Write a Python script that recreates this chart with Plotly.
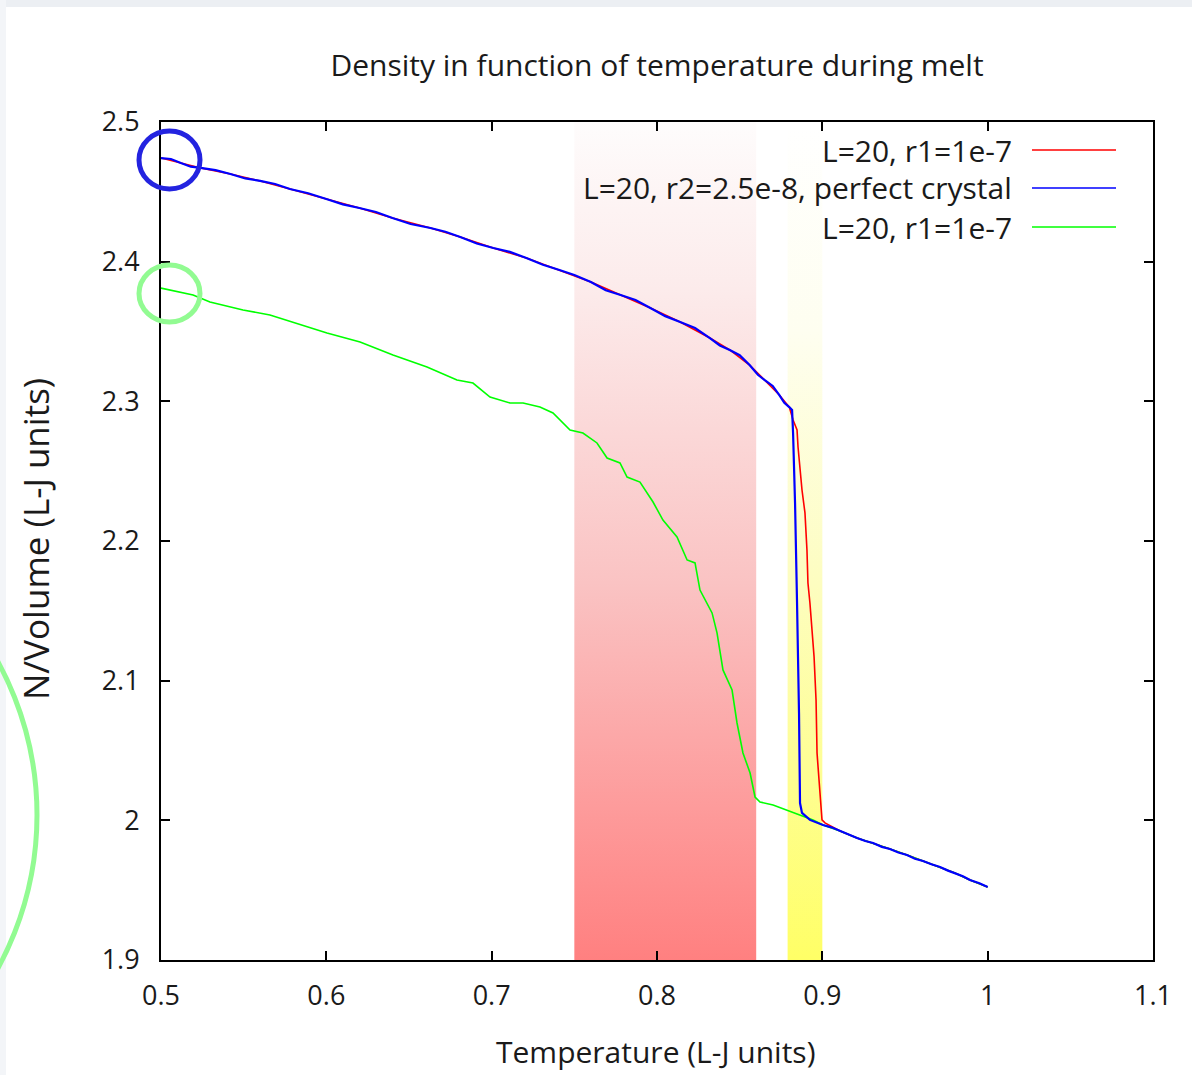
import plotly.graph_objects as go

# ---------------- data ----------------
red_T = [0.500, 0.512, 0.524, 0.542, 0.560, 0.578, 0.600, 0.620, 0.640, 0.663,
         0.681, 0.701, 0.721, 0.741, 0.760, 0.778, 0.796, 0.814, 0.832, 0.844,
         0.856, 0.865, 0.874, 0.880,
         0.8823, 0.8847, 0.8853, 0.8877, 0.8895, 0.8907, 0.8913, 0.8925, 0.8938, 0.8950,
         0.8962, 0.8968, 0.8980, 0.8998,
         0.9016, 0.9107, 0.9210, 0.9307, 0.9409, 0.9512, 0.9609, 0.9712, 0.9802, 0.9893, 1.0000]
red_rho = [2.4742, 2.4706, 2.4671, 2.4628, 2.4578, 2.4520, 2.4449, 2.4384, 2.4313, 2.4241,
           2.4177, 2.4098, 2.4026, 2.3940, 2.3854, 2.3761, 2.3668, 2.3568, 2.3453, 2.3368,
           2.3260, 2.3153, 2.3045, 2.2959,
           2.2866, 2.2795, 2.2673, 2.2365, 2.2201, 2.1936, 2.1699, 2.1556, 2.1384, 2.1170,
           2.0862, 2.0482, 2.0289, 2.0003,
           1.9982, 1.9924, 1.9874, 1.9838, 1.9795, 1.9752, 1.9709, 1.9666, 1.9623, 1.9573, 1.9523]

blue_T = [0.500, 0.506, 0.512, 0.518, 0.524, 0.533, 0.542, 0.551, 0.560, 0.569,
          0.578, 0.589, 0.600, 0.610, 0.620, 0.630, 0.640, 0.651, 0.663, 0.672,
          0.681, 0.691, 0.701, 0.711, 0.721, 0.731, 0.741, 0.750, 0.760, 0.769,
          0.778, 0.787, 0.796, 0.805, 0.814, 0.823, 0.832, 0.838, 0.844, 0.850,
          0.856, 0.861, 0.865, 0.870, 0.874, 0.877, 0.880,
          0.8817, 0.8823, 0.8835, 0.8847, 0.8853, 0.8859, 0.8865, 0.8877, 0.8925,
          0.9004, 0.9055, 0.9107, 0.9160, 0.9210, 0.9260, 0.9307, 0.9360, 0.9409, 0.9460,
          0.9512, 0.9560, 0.9609, 0.9660, 0.9712, 0.9760, 0.9802, 0.9850, 0.9893, 0.9950, 1.0000]
blue_rho = [2.4742, 2.4735, 2.4706, 2.4680, 2.4671, 2.4655, 2.4628, 2.4596, 2.4578, 2.4556,
            2.4520, 2.4490, 2.4449, 2.4410, 2.4384, 2.4356, 2.4313, 2.4270, 2.4241, 2.4214,
            2.4177, 2.4130, 2.4098, 2.4070, 2.4026, 2.3978, 2.3940, 2.3905, 2.3854, 2.3795,
            2.3761, 2.3725, 2.3668, 2.3610, 2.3568, 2.3525, 2.3453, 2.3400, 2.3368, 2.3330,
            2.3260, 2.3190, 2.3153, 2.3110, 2.3045, 2.2990, 2.2959,
            2.2938, 2.2773, 2.2272, 2.1556, 2.1198, 2.0769, 2.0124, 2.0053, 2.0003,
            1.9967, 1.9950, 1.9924, 1.9895, 1.9874, 1.9852, 1.9838, 1.9810, 1.9795, 1.9770,
            1.9752, 1.9725, 1.9709, 1.9685, 1.9666, 1.9640, 1.9623, 1.9600, 1.9573, 1.9550, 1.9523]

green_T = [0.500, 0.5194, 0.5296, 0.5496, 0.5659, 0.5841, 0.6004, 0.6204, 0.6403, 0.6609,
           0.6688, 0.6790, 0.6887, 0.6990, 0.7111, 0.7190, 0.7292, 0.7371, 0.7474, 0.7552,
           0.7637, 0.7698, 0.7776, 0.7819, 0.7897, 0.7976, 0.8036, 0.8121, 0.8182, 0.8230,
           0.8260, 0.8333, 0.8363, 0.8399, 0.8454, 0.8484, 0.8520, 0.8563, 0.8593, 0.8623,
           0.8702, 0.8786, 0.8865, 0.8944, 0.9004,
           0.9107, 0.9210, 0.9307, 0.9409, 0.9512, 0.9609, 0.9712, 0.9802, 0.9893, 1.0000]
green_rho = [2.3811, 2.3761, 2.3711, 2.3654, 2.3618, 2.3547, 2.3489, 2.3425, 2.3332, 2.3246,
             2.3203, 2.3153, 2.3131, 2.3031, 2.2988, 2.2988, 2.2959, 2.2917, 2.2795, 2.2773,
             2.2702, 2.2594, 2.2559, 2.2458, 2.2422, 2.2279, 2.2150, 2.2029, 2.1864, 2.1843,
             2.1649, 2.1485, 2.1342, 2.1077, 2.0933, 2.0697, 2.0482, 2.0339, 2.0167, 2.0131,
             2.0110, 2.0074, 2.0038, 2.0003, 1.9967,
             1.9924, 1.9874, 1.9838, 1.9795, 1.9752, 1.9709, 1.9666, 1.9623, 1.9573, 1.9523]

series_names = ["L=20, r1=1e-7", "L=20, r2=2.5e-8, perfect crystal", "L=20, r1=1e-7"]
series_colors = ["#ff0000", "#0000ff", "#00ff00"]

red_band_T = [0.75, 0.86]
yellow_band_T = [0.879, 0.90]
band_rho = [1.9, 2.5]

x_ticks = [0.5, 0.6, 0.7, 0.8, 0.9, 1.0, 1.1]
x_ticklabels = ["0.5", "0.6", "0.7", "0.8", "0.9", "1", "1.1"]
y_ticks = [1.9, 2.0, 2.1, 2.2, 2.3, 2.4, 2.5]
y_ticklabels = ["1.9", "2", "2.1", "2.2", "2.3", "2.4", "2.5"]

FONT = "Open Sans, sans-serif"
TXT = "#1a1a1a"

fig = go.Figure()


def add_band(xs, colorscale):
    fig.add_trace(go.Scatter(
        x=[xs[0], xs[1], xs[1], xs[0], xs[0]],
        y=[band_rho[0], band_rho[0], band_rho[1], band_rho[1], band_rho[0]],
        mode="lines", line=dict(width=0), fill="toself",
        fillgradient=dict(type="vertical", colorscale=colorscale,
                          start=band_rho[0], stop=band_rho[1]),
        hoverinfo="skip", showlegend=False))


add_band(red_band_T, [[0, "#ff8080"], [0.45, "#fac3c3"], [0.8, "#fcebeb"], [1, "#fefcfc"]])
add_band(yellow_band_T, [[0, "#ffff66"], [0.45, "#fdfdc0"], [0.75, "#fefef0"], [1, "#ffffff"]])

fig.add_trace(go.Scatter(x=red_T, y=red_rho, mode="lines", name=series_names[0],
                         line=dict(color=series_colors[0], width=1.6), showlegend=False))
fig.add_trace(go.Scatter(x=green_T, y=green_rho, mode="lines", name=series_names[2],
                         line=dict(color=series_colors[2], width=1.6), showlegend=False))
fig.add_trace(go.Scatter(x=blue_T, y=blue_rho, mode="lines", name=series_names[1],
                         line=dict(color=series_colors[1], width=2.2), showlegend=False))

# ---- layout: plot area 161..1153 x 122..960 px ----
L, R, T, B = 161, 1153, 122, 960
W, H = 1192, 1075


def px(x):
    return (x - L) / (R - L)


def py(y):
    return (B - y) / (B - T)


shapes = []
# legend sample lines (right of the text, gnuplot style)
for i, yy in enumerate([150, 188, 227]):
    shapes.append(dict(type="line", xref="paper", yref="paper",
                       x0=px(1032), x1=px(1116), y0=py(yy), y1=py(yy),
                       line=dict(color=series_colors[i], width=1.6)))
# highlight circles
shapes.append(dict(type="circle", xref="paper", yref="paper",
                   x0=px(139), x1=px(200), y0=py(189), y1=py(131),
                   line=dict(color="#2323e0", width=5)))
shapes.append(dict(type="circle", xref="paper", yref="paper",
                   x0=px(139), x1=px(200), y0=py(322), y1=py(265),
                   line=dict(color="#92fb92", width=5)))
shapes.append(dict(type="circle", xref="paper", yref="paper",
                   x0=px(-603), x1=px(37), y0=py(1135), y1=py(495),
                   line=dict(color="#92fb92", width=5)))
# screenshot frame strips
shapes.append(dict(type="rect", xref="paper", yref="paper",
                   x0=px(0), x1=px(W), y0=py(7), y1=py(0),
                   line=dict(width=0), fillcolor="#eceff3", layer="below"))
shapes.append(dict(type="rect", xref="paper", yref="paper",
                   x0=px(0), x1=px(6), y0=py(H), y1=py(0),
                   line=dict(width=0), fillcolor="#f3f5f8", layer="below"))

annotations = []
for i, yy in enumerate([150, 188, 227]):
    annotations.append(dict(text=series_names[i], xref="paper", yref="paper",
                            x=px(1014), y=py(yy), xanchor="right", yanchor="middle",
                            showarrow=False, font=dict(family=FONT, size=30, color=TXT)))
annotations.append(dict(text="Temperature (L-J units)", xref="paper", yref="paper",
                        x=px(655), y=py(1051), xanchor="center", yanchor="middle",
                        showarrow=False, font=dict(family=FONT, size=30, color=TXT)))
annotations.append(dict(text="N/Volume (L-J units)", xref="paper", yref="paper",
                        x=px(35), y=py(539), xanchor="center", yanchor="middle", textangle=-90,
                        showarrow=False, font=dict(family=FONT, size=35, color=TXT)))

axis_common = dict(showgrid=False, zeroline=False, ticks="inside", ticklen=9, tickwidth=1.5,
                   tickcolor="black", showline=True, linecolor="black", linewidth=2,
                   mirror="allticks", tickfont=dict(family=FONT, size=27, color=TXT))

fig.update_layout(
    width=W, height=H, autosize=False,
    margin=dict(l=L, r=W - R, t=T, b=H - B, pad=0),
    paper_bgcolor="white", plot_bgcolor="white",
    title=dict(text="Density in function of temperature during melt",
               x=0.5, xref="paper", xanchor="center", y=1 - 65 / H, yanchor="middle",
               font=dict(family=FONT, size=30, color=TXT)),
    xaxis=dict(range=[0.5, 1.1], tickvals=x_ticks, ticktext=x_ticklabels,
               ticklabelstandoff=11, **axis_common),
    yaxis=dict(range=[1.9, 2.5], tickvals=y_ticks, ticktext=y_ticklabels,
               ticklabelstandoff=14, **axis_common),
    shapes=shapes, annotations=annotations, showlegend=False,
)

fig.write_html("out.html", config={"displayModeBar": False},
               post_script="document.body.style.margin='0';document.body.style.overflow='hidden';")
